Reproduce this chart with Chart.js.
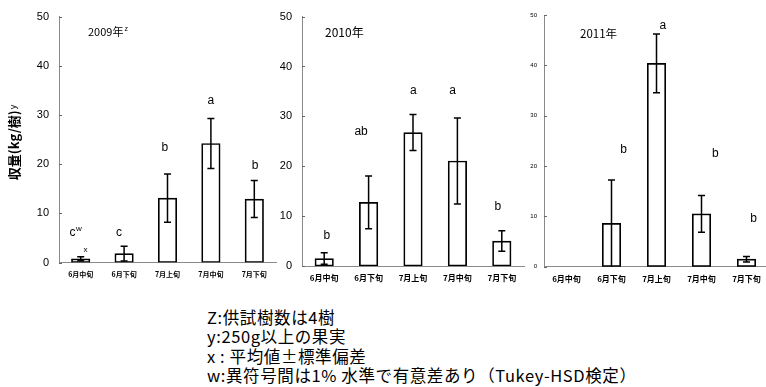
<!DOCTYPE html>
<html>
<head>
<meta charset="utf-8">
<script src="https://cdn.jsdelivr.net/npm/chart.js@4"></script>
<style>
  html, body { margin: 0; padding: 0; background: #fff; overflow: hidden; width: 766px; height: 387px; }
  canvas { position: absolute; top: 0; }
  #notes { position: absolute; left: 207px; top: 308px; font-family: 'Noto Sans CJK JP', sans-serif;
           font-size: 16.5px; letter-spacing: 0.6px; line-height: 19.3px; color: #000; white-space: nowrap; }
</style>
</head>
<body>
<canvas id="c2009" width="280" height="290" style="left:0px"></canvas>
<canvas id="c2010" width="280" height="290" style="left:250px"></canvas>
<canvas id="c2011" width="272" height="290" style="left:500px"></canvas>
<div id="notes">
  <div>Z:供試樹数は4樹</div>
  <div>y:250g以上の果実</div>
  <div>x : 平均値±標準偏差</div>
  <div>w:異符号間は1% 水準で有意差あり（Tukey-HSD検定）</div>
</div>
<script>
// Harvest per tree (kg), mean and standard deviation per picking period
const categories = ['6月中旬', '6月下旬', '7月上旬', '7月中旬', '7月下旬'];
const yTicks = [0, 10, 20, 30, 40, 50];

const mean2009 = [0.75, 1.8, 13.1, 24.2, 12.9];
const sd2009   = [0.4, 1.5, 4.9, 5.1, 3.75];
const sig2009  = ['c', 'c', 'b', 'a', 'b'];

const mean2010 = [1.5, 12.75, 26.75, 21.05, 5.0];
const sd2010   = [1.15, 5.3, 3.6, 8.6, 2.05];
const sig2010  = ['b', 'ab', 'a', 'a', 'b'];

const mean2011 = [0, 8.6, 40.4, 10.5, 1.5];
const sd2011   = [0, 8.6, 5.85, 3.65, 0.55];
const sig2011  = ['', 'b', 'a', 'b', 'b'];

const JP = "'Noto Sans CJK JP', sans-serif";
const LAT = "'Liberation Sans', Arial, sans-serif";

// Draws SD whiskers, significance letters, inward y ticks and the year label
function overlay(p) {
  return {
    id: 'overlay',
    afterDatasetsDraw(chart) {
      const { ctx, chartArea: area, scales: { x, y } } = chart;
      const meta = chart.getDatasetMeta(0);
      const values = chart.data.datasets[0].data;
      ctx.save();

      // inward tick marks on the value axis
      ctx.strokeStyle = '#666';
      ctx.lineWidth = 1;
      ctx.beginPath();
      yTicks.forEach(v => {
        const py = Math.round(y.getPixelForValue(v)) + 0.5;
        ctx.moveTo(area.left, py);
        ctx.lineTo(area.left + 3, py);
      });
      ctx.stroke();

      // mean ± SD whiskers
      ctx.strokeStyle = '#000';
      ctx.lineWidth = 1.5;
      meta.data.forEach((bar, i) => {
        const s = p.sd[i];
        if (!s) return;
        const m = values[i];
        const top = y.getPixelForValue(m + s);
        const bot = y.getPixelForValue(Math.max(0, m - s));
        ctx.beginPath();
        ctx.moveTo(bar.x, top); ctx.lineTo(bar.x, bot);
        ctx.moveTo(bar.x - 3.5, top); ctx.lineTo(bar.x + 3.5, top);
        if (m - s > 0) { ctx.moveTo(bar.x - 3.5, bot); ctx.lineTo(bar.x + 3.5, bot); }
        ctx.stroke();
      });

      // significance letters
      ctx.fillStyle = '#000';
      ctx.textBaseline = 'middle';
      p.sig.forEach((t, i) => {
        if (!t) return;
        const [dx, yv] = p.letterAt[i];
        const px = x.getPixelForValue(i + dx);
        const py = y.getPixelForValue(yv);
        ctx.font = p.letterSize + 'px ' + LAT;
        ctx.textAlign = 'center';
        ctx.fillText(t, px, py);
        if (p.sup && p.sup[i]) {
          const w = ctx.measureText(t).width;
          ctx.font = '8px ' + LAT;
          ctx.textAlign = 'left';
          ctx.fillText(p.sup[i], px + w / 2 + 0.5, py - 4);
        }
      });
      if (p.extra) {
        const e = p.extra;
        ctx.font = e.size + 'px ' + LAT;
        ctx.textAlign = 'center';
        ctx.fillText(e.text, x.getPixelForValue(e.at[0]), y.getPixelForValue(e.at[1]));
      }

      // year label
      ctx.textAlign = 'left';
      ctx.font = p.titleSize + 'px ' + JP;
      const tx = area.left + p.titleDx;
      ctx.fillText(p.title, tx, p.titleY);
      if (p.titleSup) {
        const w = ctx.measureText(p.title).width;
        ctx.font = '7px ' + LAT;
        ctx.fillText(p.titleSup, tx + w + 1, p.titleY - 3);
      }

      // value axis title
      if (p.yTitle) {
        ctx.translate(14.5, 142.5);
        ctx.rotate(-Math.PI / 2);
        ctx.font = 'bold 13px ' + JP;
        const main = p.yTitle;
        const wMain = ctx.measureText(main).width;
        ctx.font = '9px ' + LAT;
        const wSup = ctx.measureText(p.yTitleSup).width;
        const start = -(wMain + wSup + 1) / 2;
        ctx.font = 'bold 13px ' + JP;
        ctx.textAlign = 'left';
        ctx.fillText(main, start, 0);
        ctx.font = '9px ' + LAT;
        ctx.fillText(p.yTitleSup, start + wMain + 1, -1);
      }
      ctx.restore();
    }
  };
}

function makePanel(id, mean, p) {
  new Chart(document.getElementById(id), {
    type: 'bar',
    data: {
      labels: categories,
      datasets: [{
        data: mean,
        backgroundColor: '#fff',
        borderColor: '#000',
        borderWidth: 1.7,
        barThickness: 18.5,
        borderSkipped: false
      }]
    },
    options: {
      responsive: false,
      animation: false,
      events: [],
      layout: { padding: { top: 15, right: p.padRight, left: 0, bottom: 0 } },
      plugins: { legend: { display: false }, tooltip: { enabled: false } },
      scales: {
        x: {
          grid: { display: false, drawTicks: false },
          border: { display: true, color: '#8a8a8a', width: 1, dash: [2, 1] },
          ticks: { color: '#000', padding: p.xPad, maxRotation: 0,
                   font: { family: JP, size: p.xFont, weight: 'bold' } },
          afterFit: s => { s.height = p.xHeight; }
        },
        y: {
          min: 0, max: 50,
          grid: { display: false, drawTicks: false },
          border: { display: true, color: '#8a8a8a', width: 1, dash: [2, 1] },
          ticks: { stepSize: 10, color: '#000', padding: p.yPad,
                   font: { family: LAT, size: p.yFont } },
          afterFit: s => { s.width = p.yWidth; }
        }
      }
    },
    plugins: [overlay(p)]
  });
}

makePanel('c2009', mean2009, {
  sd: sd2009, sig: sig2009, sup: ['w', '', '', '', ''],
  letterAt: [[-0.19, 6.0], [-0.12, 6.0], [-0.06, 23.4], [0, 33.0], [0.02, 19.7]],
  letterSize: 12,
  extra: { text: 'x', size: 8, at: [0.11, 2.5] },
  title: '2009年', titleSup: 'z', titleSize: 11, titleDx: 29, titleY: 32,
  yTitle: '収量(kg/樹)', yTitleSup: 'y',
  yWidth: 59, xHeight: 27.5, padRight: 4, xPad: 8, xFont: 7, yPad: 10, yFont: 11
});

makePanel('c2010', mean2010, {
  sd: sd2010, sig: sig2010,
  letterAt: [[0.06, 6.0], [-0.17, 26.9], [0.01, 35.2], [-0.11, 35.2], [-0.09, 11.8]],
  letterSize: 12,
  title: '2010年', titleSize: 12, titleDx: 23, titleY: 32,
  yWidth: 52, xHeight: 24, padRight: 6, xPad: 7.5, xFont: 8, yPad: 10, yFont: 11
});

makePanel('c2011', mean2011, {
  sd: sd2011, sig: sig2011,
  letterAt: [null, [0.27, 23.3], [0.14, 47.9], [0.31, 22.4], [0.16, 9.6]],
  letterSize: 12,
  title: '2011年', titleSize: 11.5, titleDx: 36, titleY: 34,
  yWidth: 44, xHeight: 23.3, padRight: 3, xPad: 7, xFont: 8, yPad: 7, yFont: 6
});
</script>
</body>
</html>
